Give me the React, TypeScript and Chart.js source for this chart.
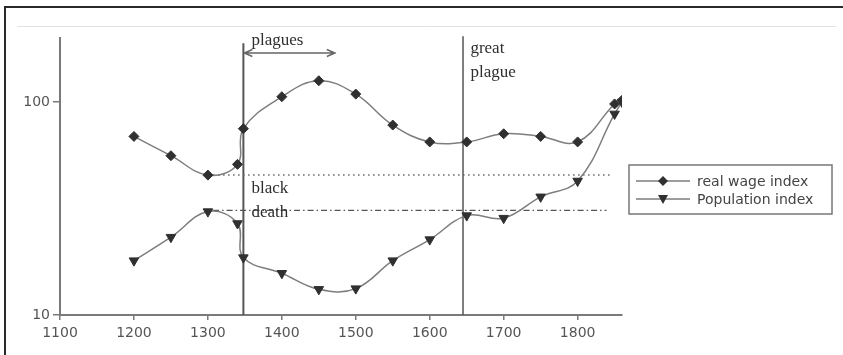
import React, { useEffect, useRef } from 'react';
import Chart from 'chart.js/auto';

const YEARS = [1200, 1250, 1300, 1340, 1348, 1400, 1450, 1500, 1550, 1600, 1650, 1700, 1750, 1800, 1850, 1860];
const WAGE = [69, 56, 45.4, 51, 75, 106, 126, 109, 78, 65, 65, 71, 69, 65, 98, 102];
const POP = [18, 23.2, 30.6, 26.9, 18.6, 15.7, 13.2, 13.3, 18, 22.6, 29.3, 28.5, 35.9, 42.6, 88, 100];
const SERIES_LABELS = ['real wage index', 'Population index'];
const X_TICKS = [1100, 1200, 1300, 1400, 1500, 1600, 1700, 1800];
const Y_TICKS = [10, 100];
const X_RANGE = [1100, 1860];
const Y_RANGE = [10, 200];

const BLACK_DEATH = 1348;
const GREAT_PLAGUE = 1645;
const BLACK_DEATH_TOP = 189;
const GREAT_PLAGUE_TOP = 204;
const WAGE_REF = 45.4;
const WAGE_REF_SPAN = [1307, 1846];
const POP_REF = 31;
const POP_REF_SPAN = [1307, 1839];
const PLAGUES_ARROW = { from: 1348, to: 1473, y: 170 };
const NOTES = [
  { text: 'plagues', x: 1359, y: 185 },
  { text: 'great', x: 1655, y: 170 },
  { text: 'plague', x: 1655, y: 131 },
  { text: 'black', x: 1359, y: 37.4 },
  { text: 'death', x: 1359, y: 28.8 },
];

const LINE_COLOR = '#7d7d7d';
const MARK_COLOR = '#303030';
const AXIS_COLOR = '#7a7a7a';

const decorPlugin = {
  id: 'decor',
  beforeDraw(chart: any) {
    const ctx = chart.ctx;
    ctx.save();
    ctx.fillStyle = '#ffffff';
    ctx.fillRect(0, 0, chart.width, chart.height);
    ctx.strokeStyle = '#2a2a2a';
    ctx.lineWidth = 2;
    ctx.beginPath();
    ctx.moveTo(5, 7);
    ctx.lineTo(chart.width, 7);
    ctx.moveTo(5, 6);
    ctx.lineTo(5, chart.height);
    ctx.stroke();
    ctx.strokeStyle = '#e2e2e2';
    ctx.lineWidth = 1;
    ctx.beginPath();
    ctx.moveTo(17, 26.5);
    ctx.lineTo(836, 26.5);
    ctx.stroke();
    ctx.restore();
  },
  afterDraw(chart: any) {
    const ctx = chart.ctx;
    const xs = chart.scales.x;
    const ys = chart.scales.y;
    ctx.save();
    // arrow
    const ax1 = xs.getPixelForValue(PLAGUES_ARROW.from);
    const ax2 = xs.getPixelForValue(PLAGUES_ARROW.to);
    const ay = ys.getPixelForValue(PLAGUES_ARROW.y);
    ctx.strokeStyle = '#666';
    ctx.lineWidth = 1.5;
    ctx.beginPath();
    ctx.moveTo(ax1, ay);
    ctx.lineTo(ax2, ay);
    ctx.moveTo(ax1 + 9, ay - 3.5);
    ctx.lineTo(ax1 + 1, ay);
    ctx.lineTo(ax1 + 9, ay + 3.5);
    ctx.moveTo(ax2 - 9, ay - 3.5);
    ctx.lineTo(ax2 - 1, ay);
    ctx.lineTo(ax2 - 9, ay + 3.5);
    ctx.stroke();
    // notes
    ctx.fillStyle = '#2e2e2e';
    ctx.font = '17px "Liberation Serif", "DejaVu Serif", serif';
    ctx.textBaseline = 'alphabetic';
    ctx.textAlign = 'left';
    NOTES.forEach((n) => {
      ctx.fillText(n.text, xs.getPixelForValue(n.x), ys.getPixelForValue(n.y));
    });
    // legend
    const lx = 629, ly = 165, lw = 203, lh = 49;
    ctx.strokeStyle = '#777';
    ctx.lineWidth = 1.5;
    ctx.strokeRect(lx, ly, lw, lh);
    ctx.font = '14px "DejaVu Sans", sans-serif';
    ctx.textBaseline = 'middle';
    SERIES_LABELS.forEach((label, i) => {
      const ry = ly + 16 + i * 18;
      ctx.strokeStyle = LINE_COLOR;
      ctx.lineWidth = 1.5;
      ctx.beginPath();
      ctx.moveTo(636, ry);
      ctx.lineTo(690, ry);
      ctx.stroke();
      ctx.fillStyle = MARK_COLOR;
      ctx.beginPath();
      if (i === 0) {
        ctx.moveTo(663, ry - 5);
        ctx.lineTo(668, ry);
        ctx.lineTo(663, ry + 5);
        ctx.lineTo(658, ry);
      } else {
        ctx.moveTo(658, ry - 4);
        ctx.lineTo(668, ry - 4);
        ctx.lineTo(663, ry + 5);
      }
      ctx.closePath();
      ctx.fill();
      ctx.fillStyle = '#444';
      ctx.fillText(label, 697, ry + 1);
    });
    ctx.restore();
  },
};

export default function App() {
  const ref = useRef<HTMLCanvasElement | null>(null);
  useEffect(() => {
    if (!ref.current) return;
    const wage = YEARS.map((x, i) => ({ x, y: WAGE[i] }));
    const pop = YEARS.map((x, i) => ({ x, y: POP[i] }));
    const chart = new Chart(ref.current, {
      type: 'line',
      data: {
        datasets: [
          {
            label: SERIES_LABELS[0],
            data: wage,
            borderColor: LINE_COLOR,
            borderWidth: 1.5,
            tension: 0.4,
            pointStyle: 'rectRot',
            pointRadius: 5,
            pointBackgroundColor: MARK_COLOR,
            pointBorderColor: MARK_COLOR,
            pointBorderWidth: 1,
          },
          {
            label: SERIES_LABELS[1],
            data: pop,
            borderColor: LINE_COLOR,
            borderWidth: 1.5,
            tension: 0.4,
            pointStyle: 'triangle',
            pointRotation: 180,
            pointRadius: 5.5,
            pointBackgroundColor: MARK_COLOR,
            pointBorderColor: MARK_COLOR,
            pointBorderWidth: 1,
          },
          {
            label: 'wage ref',
            data: [{ x: WAGE_REF_SPAN[0], y: WAGE_REF }, { x: WAGE_REF_SPAN[1], y: WAGE_REF }],
            borderColor: '#666',
            borderWidth: 1.5,
            borderDash: [1.5, 3.5],
            pointRadius: 0,
          },
          {
            label: 'pop ref',
            data: [{ x: POP_REF_SPAN[0], y: POP_REF }, { x: POP_REF_SPAN[1], y: POP_REF }],
            borderColor: '#555',
            borderWidth: 1.2,
            borderDash: [6, 3, 1.5, 3],
            pointRadius: 0,
          },
          {
            label: 'black death',
            data: [{ x: BLACK_DEATH, y: Y_RANGE[0] }, { x: BLACK_DEATH, y: BLACK_DEATH_TOP }],
            borderColor: '#555',
            borderWidth: 2,
            pointRadius: 0,
            clip: false,
          },
          {
            label: 'great plague',
            data: [{ x: GREAT_PLAGUE, y: Y_RANGE[0] }, { x: GREAT_PLAGUE, y: GREAT_PLAGUE_TOP }],
            borderColor: '#555',
            borderWidth: 1.5,
            pointRadius: 0,
            clip: false,
          },
        ],
      },
      options: {
        animation: false,
        responsive: false,
        maintainAspectRatio: false,
        layout: { padding: { top: 38, right: 221, left: 0, bottom: 0 } },
        plugins: { legend: { display: false }, tooltip: { enabled: false } },
        scales: {
          x: {
            type: 'linear',
            min: X_RANGE[0],
            max: X_RANGE[1],
            afterBuildTicks: (s: any) => { s.ticks = X_TICKS.map((v) => ({ value: v })); },
            afterFit: (s: any) => { s.height = 40; },
            grid: { drawOnChartArea: false, drawTicks: true, tickLength: 5, color: AXIS_COLOR, lineWidth: 1.5 },
            border: { color: AXIS_COLOR, width: 2 },
            ticks: {
              color: '#555',
              padding: 5,
              maxRotation: 0,
              font: { family: '"DejaVu Sans", sans-serif', size: 14 },
              callback: (v: any) => String(v),
            },
          },
          y: {
            type: 'logarithmic',
            min: Y_RANGE[0],
            max: Y_RANGE[1],
            afterBuildTicks: (s: any) => { s.ticks = Y_TICKS.map((v) => ({ value: v })); },
            afterFit: (s: any) => { s.width = 60; },
            grid: { drawOnChartArea: false, drawTicks: true, tickLength: 7, color: AXIS_COLOR, lineWidth: 1.5 },
            border: { color: AXIS_COLOR, width: 2 },
            ticks: {
              color: '#555',
              padding: 3,
              font: { family: '"DejaVu Sans", sans-serif', size: 14 },
              callback: (v: any) => String(v),
            },
          },
        },
      },
      plugins: [decorPlugin],
    } as any);
    return () => chart.destroy();
  }, []);
  return (
    <div style={{ position: 'fixed', left: 0, top: 0, width: 843, height: 355, background: '#fff' }}>
      <canvas ref={ref} width={843} height={355} style={{ width: 843, height: 355, display: 'block' }} />
    </div>
  );
}
